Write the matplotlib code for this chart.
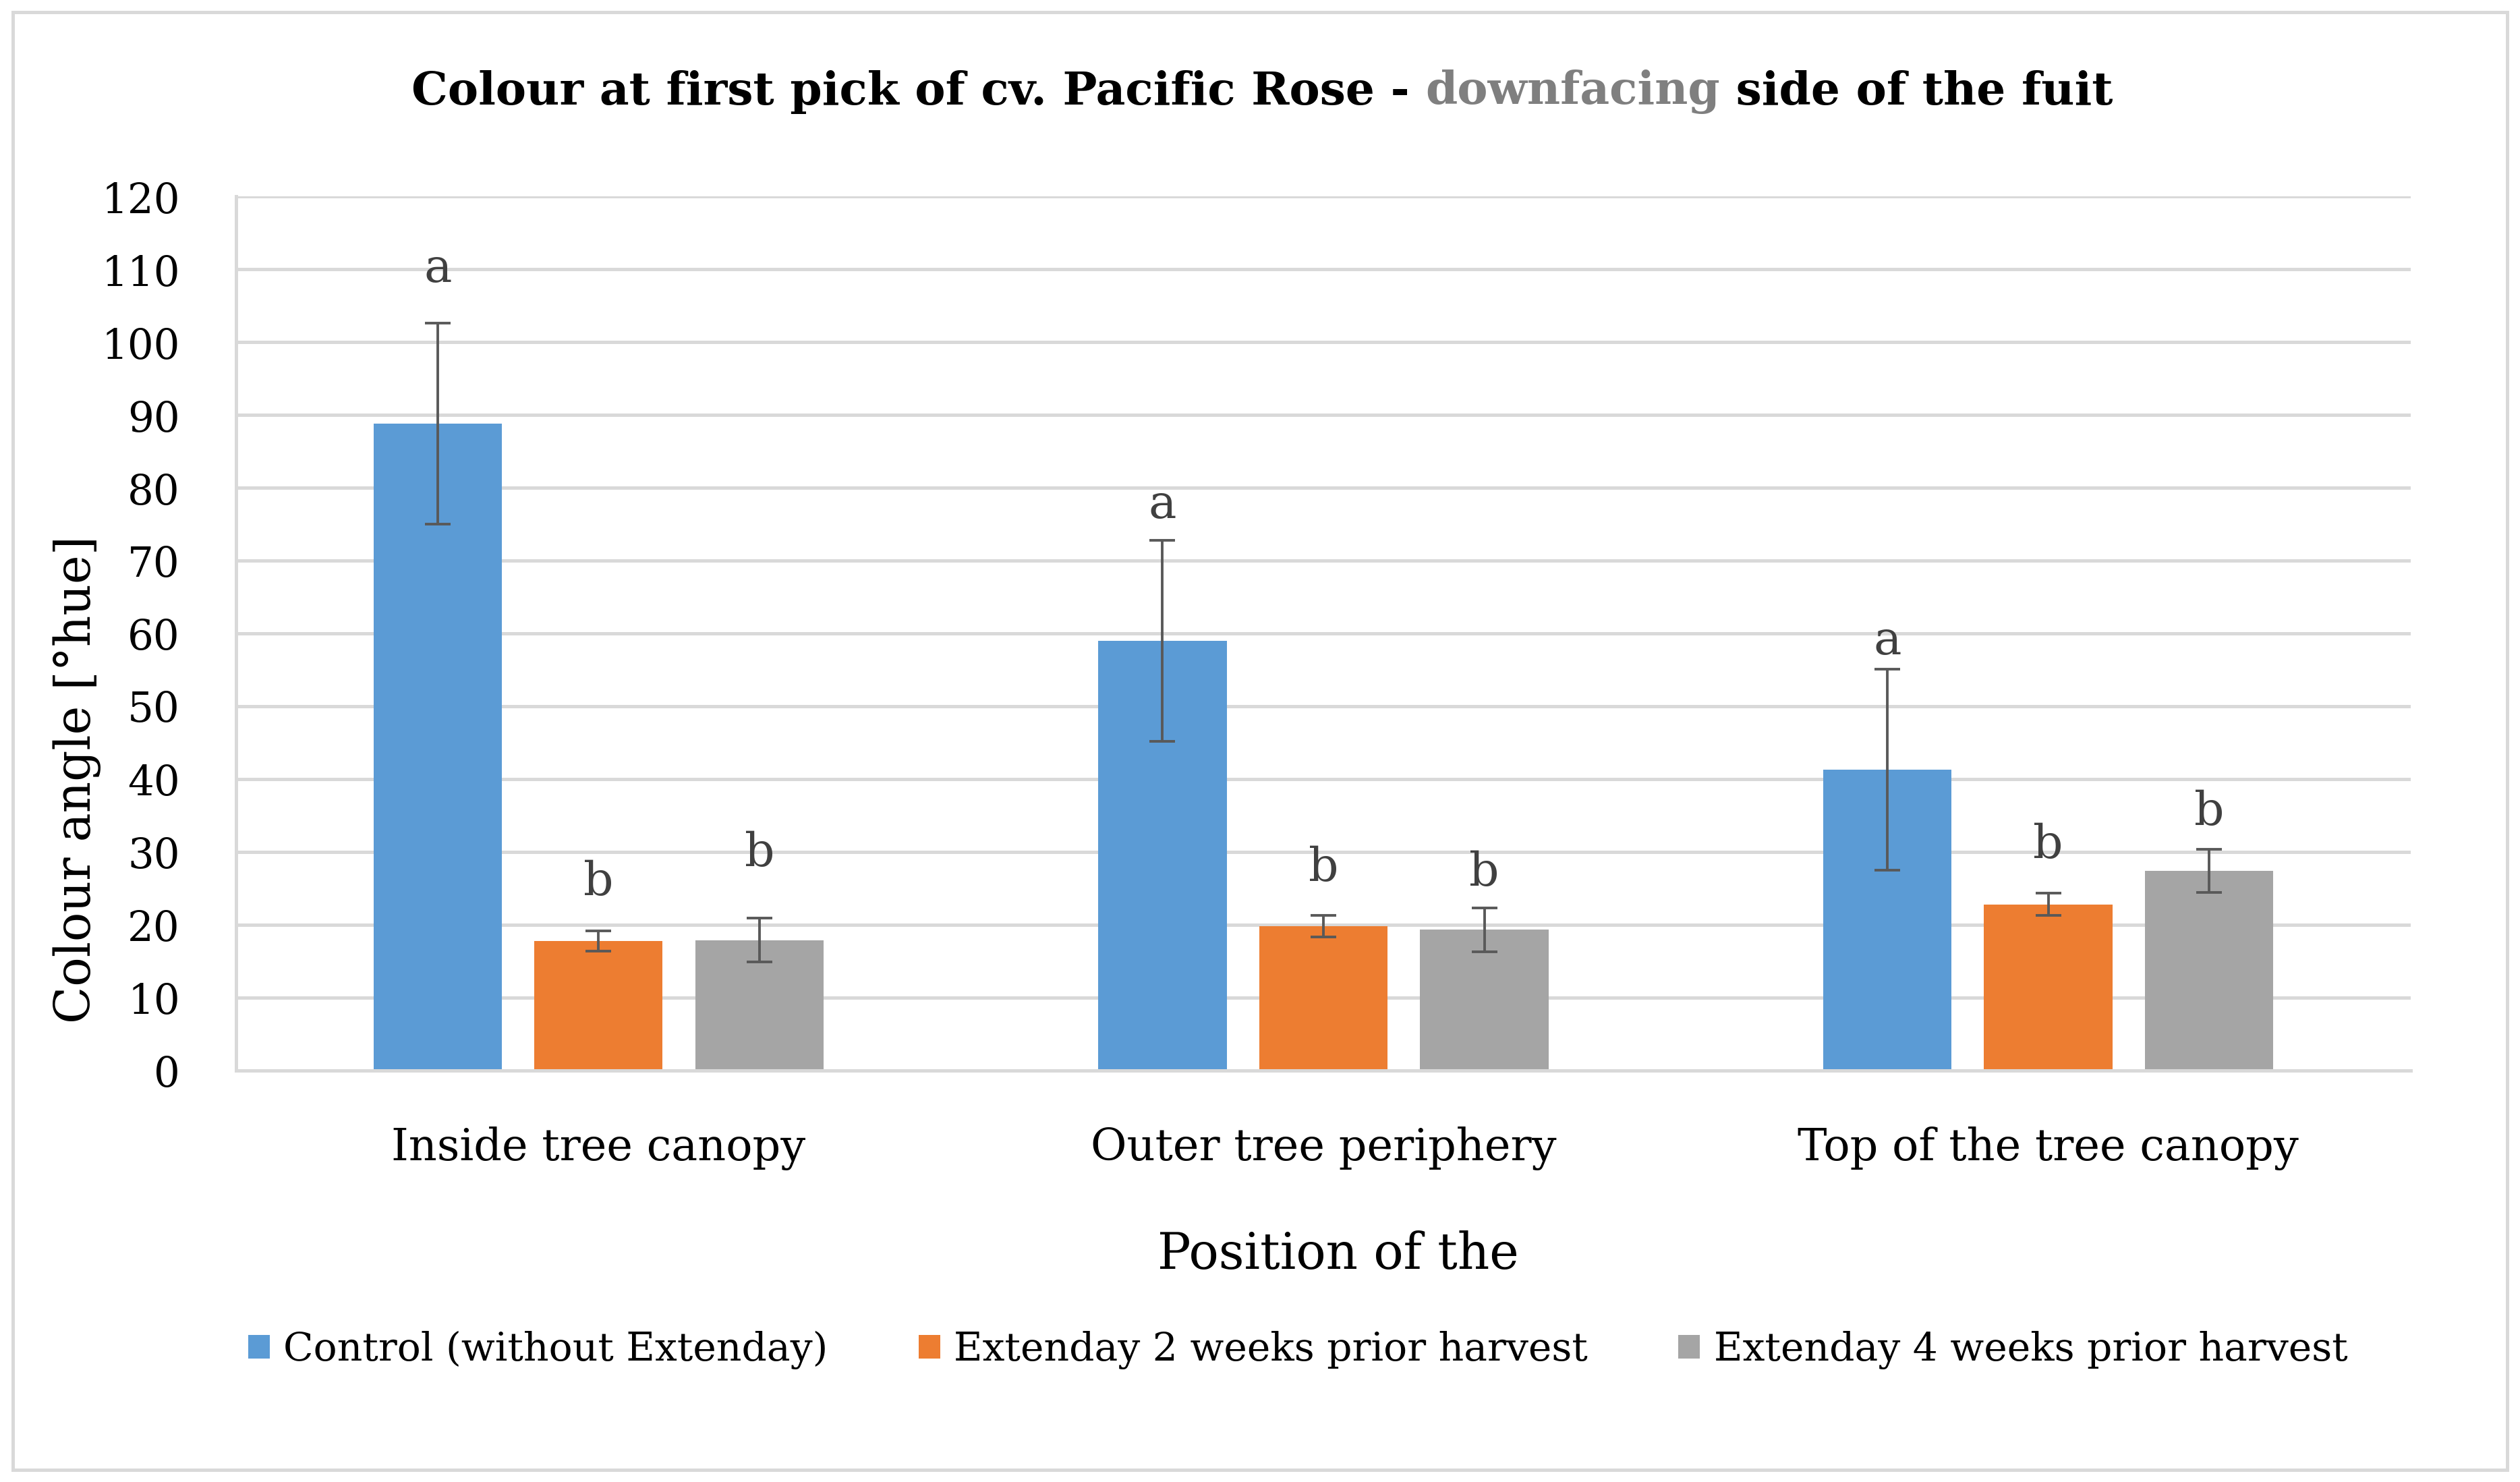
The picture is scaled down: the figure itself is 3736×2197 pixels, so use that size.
import matplotlib
matplotlib.use("Agg")
import matplotlib.pyplot as plt
import numpy as np
from matplotlib.patches import Rectangle

# data
positions = ["Inside tree canopy", "Outer tree periphery", "Top of the tree canopy"]
series_names = ["Control (without Extenday)", "Extenday 2 weeks prior harvest",
                "Extenday 4 weeks prior harvest"]
control = [88.8, 59.0, 41.3]
ext_2w = [17.8, 19.8, 22.8]
ext_4w = [17.9, 19.3, 27.4]
control_err = [13.8, 13.8, 13.8]
ext_2w_err = [1.4, 1.5, 1.5]
ext_4w_err = [3.0, 3.0, 3.0]
control_letters = ["a", "a", "a"]
ext_2w_letters = ["b", "b", "b"]
ext_4w_letters = ["b", "b", "b"]
# heights (data units) where the significance letters sit
control_letter_y = [110.0, 77.6, 58.9]
ext_2w_letter_y = [25.8, 27.8, 30.9]
ext_4w_letter_y = [29.8, 27.1, 35.5]
yticks = list(range(0, 121, 10))

colors = ["#5b9bd5", "#ed7d31", "#a5a5a5"]
grid_c = "#d9d9d9"
FONT = "DejaVu Serif"
plt.rcParams['font.family'] = [FONT]

fig = plt.figure(figsize=(18.68, 10.985), dpi=200)
ax = fig.add_axes([0.0937, 0.2777, 0.8629, 0.5898])

x = np.arange(len(positions))
width = 0.177
offset = 0.222
series = [
    (control, control_err, control_letters, control_letter_y),
    (ext_2w, ext_2w_err, ext_2w_letters, ext_2w_letter_y),
    (ext_4w, ext_4w_err, ext_4w_letters, ext_4w_letter_y),
]
handles = []
for i, (vals, errs, letters, ly) in enumerate(series):
    xs = x + (i - 1) * offset
    b = ax.bar(xs, vals, width, color=colors[i], zorder=2, label=series_names[i])
    handles.append(b)
    ax.errorbar(xs, vals, yerr=errs, fmt='none', ecolor='#595959', elinewidth=1.4,
                capsize=6.8, capthick=1.4, zorder=3)
    for xx, lab, yy in zip(xs, letters, ly):
        ax.text(xx, yy, lab, ha='center', va='center', fontsize=25, color='#404040')

ax.set_xlim(-0.5, 2.5)
ax.set_ylim(0, 120)
ax.set_yticks(yticks)
ax.set_yticklabels([str(t) for t in yticks], fontsize=22)
ax.set_xticks(x)
ax.set_xticklabels(positions, fontsize=23.5)
ax.tick_params(axis='both', length=0, colors='black')
ax.tick_params(axis='x', pad=30)
ax.tick_params(axis='y', pad=30)
ax.grid(axis='y', color=grid_c, linewidth=1.8, zorder=0)
ax.set_axisbelow(True)
for side in ['top', 'right']:
    ax.spines[side].set_visible(False)
for side in ['left', 'bottom']:
    ax.spines[side].set_color(grid_c)
    ax.spines[side].set_linewidth(1.8)

fig.text(0.0306, 0.474, "Colour angle [°hue]", rotation=90, ha='center', va='center',
         fontsize=26)
fig.text(0.531, 0.153, "Position of the", ha='center', va='center', fontsize=26.5)

# title with a grey word in the middle
parts = [("Colour at first pick of cv. Pacific Rose - ", "black"),
         ("downfacing", "#7f7f7f"),
         (" side of the fuit", "black")]
t0 = fig.text(0.5, 0.938, parts[0][0], color=parts[0][1], fontsize=24.4,
              fontweight='bold', ha='left', va='center')
pieces = [t0]
for txt, col in parts[1:]:
    p = plt.annotate(txt, xycoords=pieces[-1], xy=(1, 0), va='bottom', ha='left',
                     color=col, fontsize=24.4, fontweight='bold',
                     annotation_clip=False)
    pieces.append(p)
fig.canvas.draw()
r = fig.canvas.get_renderer()
total = sum(p.get_window_extent(r).width for p in pieces)
t0.set_x(0.501 - total / fig.bbox.width / 2)

leg = fig.legend(handles=handles, labels=series_names, loc='center',
                 bbox_to_anchor=(0.515, 0.089), ncol=3, frameon=False, fontsize=21,
                 handlelength=0.55, handleheight=0.55, handletextpad=0.35,
                 columnspacing=2.3)

fig.patches.append(Rectangle((0.005, 0.008), 0.99, 0.984, transform=fig.transFigure,
                             fill=False, edgecolor=grid_c, linewidth=1.8))

fig.savefig("out.png", dpi=200)
